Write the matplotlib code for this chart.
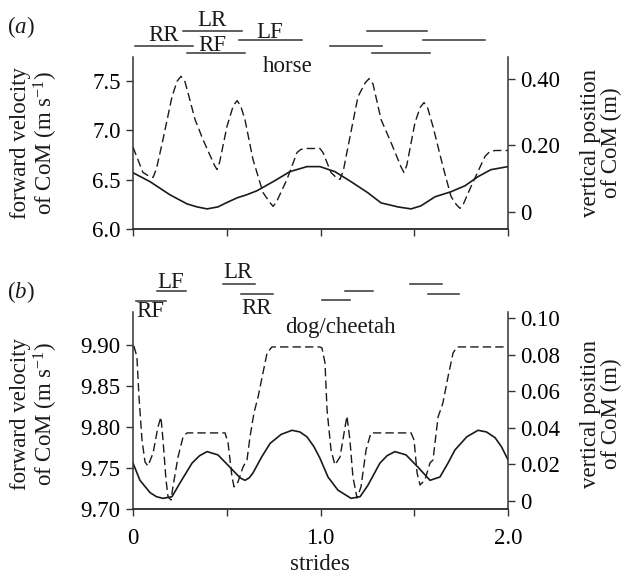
import numpy as np
import matplotlib
matplotlib.use("Agg")
import matplotlib.pyplot as plt
import matplotlib.transforms as mtransforms

plt.rcParams["font.family"] = ["Liberation Serif", "DejaVu Serif"]
plt.rcParams["mathtext.fontset"] = "custom"
plt.rcParams["mathtext.rm"] = "Liberation Serif"
plt.rcParams["mathtext.it"] = "Liberation Serif:italic"

FS = 16.5
INK = "#1a1a1a"
GREY = "#333333"

# (a) horse: forward velocity (solid, left axis), vertical position (dashed, right axis)
horse_vel_s = [0.0, 0.091, 0.197, 0.288, 0.340, 0.395, 0.453, 0.500, 0.555, 0.606, 0.661, 0.747,
               0.837, 0.928, 0.997, 1.077, 1.163, 1.253, 1.323, 1.413, 1.483, 1.536, 1.611, 1.696,
               1.771, 1.840, 1.909, 2.0]
horse_vel = [6.571, 6.480, 6.347, 6.255, 6.225, 6.204, 6.224, 6.268, 6.316, 6.347, 6.388, 6.480,
             6.582, 6.633, 6.633, 6.582, 6.480, 6.367, 6.265, 6.224, 6.204, 6.235, 6.327, 6.378,
             6.439, 6.531, 6.602, 6.633]

horse_pos_s = [0.0, 0.053, 0.085, 0.107, 0.125, 0.160, 0.208, 0.235, 0.256, 0.277, 0.293, 0.331,
               0.373, 0.435, 0.448, 0.462, 0.501, 0.535, 0.555, 0.575, 0.597, 0.640, 0.693, 0.728,
               0.747, 0.765, 0.821, 0.875, 0.895, 0.917, 0.997, 1.013, 1.056, 1.085, 1.104, 1.122,
               1.147, 1.200, 1.238, 1.259, 1.280, 1.323, 1.376, 1.430, 1.445, 1.460, 1.504, 1.532,
               1.552, 1.572, 1.600, 1.653, 1.696, 1.725, 1.744, 1.762, 1.803, 1.877, 1.900, 1.931,
               2.0]
horse_pos = [0.195, 0.119, 0.108, 0.104, 0.130, 0.218, 0.347, 0.393, 0.408, 0.392, 0.359, 0.278,
             0.218, 0.140, 0.128, 0.150, 0.257, 0.320, 0.335, 0.318, 0.278, 0.158, 0.059, 0.030,
             0.017, 0.030, 0.098, 0.179, 0.188, 0.191, 0.191, 0.179, 0.119, 0.103, 0.098, 0.125,
             0.197, 0.347, 0.388, 0.401, 0.385, 0.278, 0.209, 0.135, 0.119, 0.140, 0.269, 0.315,
             0.329, 0.312, 0.257, 0.137, 0.047, 0.022, 0.011, 0.024, 0.077, 0.167, 0.180, 0.185,
             0.185]

# (b) dog/cheetah
dog_vel_s = [0.0, 0.037, 0.091, 0.125, 0.160, 0.208, 0.251, 0.315, 0.355, 0.395, 0.453, 0.517,
             0.571, 0.597, 0.620, 0.640, 0.685, 0.731, 0.790, 0.848, 0.890, 0.928, 0.965, 0.997,
             1.040, 1.093, 1.163, 1.211, 1.253, 1.317, 1.355, 1.397, 1.456, 1.520, 1.584, 1.637,
             1.680, 1.717, 1.780, 1.840, 1.885, 1.931, 1.965, 2.0]
dog_vel = [9.756, 9.735, 9.720, 9.715, 9.713, 9.715, 9.732, 9.756, 9.765, 9.770, 9.766, 9.751,
           9.738, 9.735, 9.738, 9.744, 9.763, 9.780, 9.791, 9.796, 9.794, 9.788, 9.776, 9.762,
           9.739, 9.723, 9.713, 9.715, 9.729, 9.756, 9.765, 9.770, 9.766, 9.751, 9.735, 9.739,
           9.756, 9.772, 9.788, 9.796, 9.794, 9.787, 9.776, 9.760]

dog_pos_s = [0.005, 0.021, 0.032, 0.048, 0.064, 0.080, 0.107, 0.133, 0.149, 0.160, 0.176, 0.187,
             0.203, 0.213, 0.240, 0.267, 0.288, 0.491, 0.507, 0.528, 0.539, 0.560, 0.587, 0.608,
             0.624, 0.645, 0.667, 0.693, 0.715, 0.741, 0.997, 1.008, 1.024, 1.035, 1.056, 1.077,
             1.104, 1.131, 1.141, 1.157, 1.173, 1.195, 1.216, 1.243, 1.269, 1.483, 1.499, 1.515,
             1.531, 1.557, 1.584, 1.600, 1.627, 1.653, 1.680, 1.707, 1.728, 2.0]
dog_pos = [0.0847, 0.0787, 0.0568, 0.0333, 0.0213, 0.0191, 0.0262, 0.0404, 0.0459, 0.0333, 0.0115,
           0.0022, 0.0005, 0.0077, 0.0240, 0.0350, 0.0372, 0.0372, 0.0317, 0.0131, 0.0077, 0.0104,
           0.0186, 0.0224, 0.0350, 0.0481, 0.0568, 0.0699, 0.0809, 0.0842, 0.0842, 0.0836, 0.0754,
           0.0497, 0.0279, 0.0197, 0.0240, 0.0404, 0.0464, 0.0333, 0.0131, 0.0016, 0.0077, 0.0279,
           0.0372, 0.0372, 0.0333, 0.0153, 0.0087, 0.0115, 0.0208, 0.0224, 0.0459, 0.0536, 0.0678,
           0.0809, 0.0842, 0.0842]

# footfall bars: (start stride, end stride, height in axes fraction)
horse_bars = [(0.011, 0.320, 1.064), (0.267, 0.581, 1.151), (0.288, 0.597, 1.023), (0.565, 0.901, 1.099),
              (1.248, 1.568, 1.151), (1.051, 1.328, 1.064), (1.275, 1.584, 1.023), (1.547, 1.877, 1.099)]
horse_feet = [("RR", 0.165, 1.125), ("LR", 0.421, 1.212), ("RF", 0.421, 1.065), ("LF", 0.731, 1.142)]

dog_bars = [(0.016, 0.176, 1.056), (0.128, 0.283, 1.107), (0.480, 0.651, 1.142), (0.576, 0.747, 1.091),
            (1.008, 1.157, 1.061), (1.131, 1.280, 1.107), (1.477, 1.648, 1.142), (1.573, 1.739, 1.091)]
dog_feet = [("RF", 0.091, 1.0), ("LF", 0.203, 1.150), ("LR", 0.560, 1.200), ("RR", 0.661, 1.017)]

stride_ticks = [0, 0.5, 1.0, 1.5, 2.0]
stride_labels = ["0", "", "1.0", "", "2.0"]


def style(ax, side):
    ax.spines["top"].set_visible(False)
    for k in ("left", "right", "bottom"):
        ax.spines[k].set_linewidth(1.1)
        ax.spines[k].set_color(GREY)
    ax.spines["left" if side == "right" else "right"].set_visible(False)
    ax.tick_params(direction="out", length=5, width=1.0, color=GREY, labelsize=FS, pad=4)


def panel(rect, vel_s, vel, pos_s, pos, vlim, vticks, vlabels, plim, pticks, plabels,
          bars, feet, name, name_x, name_y, show_x):
    ax = fig.add_axes(rect)
    ax2 = ax.twinx()
    style(ax, "left")
    style(ax2, "right")
    ax.plot(vel_s, vel, color=INK, lw=1.2)
    ax2.plot(pos_s, pos, color=INK, lw=1.0, dashes=(6, 3))
    ax.set_xlim(0, 2)
    ax.set_ylim(*vlim)
    ax2.set_ylim(*plim)
    ax.set_yticks(vticks, vlabels)
    ax2.set_yticks(pticks, plabels)
    ax.set_xticks(stride_ticks, stride_labels if show_x else [""] * 5)
    ax.tick_params(axis="x", pad=9)
    tr = mtransforms.blended_transform_factory(ax.transData, ax.transAxes)
    for x0, x1, yy in bars:
        ax.plot([x0, x1], [yy, yy], transform=tr, color=GREY, lw=1.1, clip_on=False)
    for lab, xx, yy in feet:
        ax.text(xx, yy, lab, transform=tr, ha="center", va="center", fontsize=FS, color=INK)
    ax.text(name_x, name_y, name, transform=tr, ha="center", va="center", fontsize=FS, color=INK)
    return ax


fig = plt.figure(figsize=(6.24, 5.78), dpi=100)

panel([133 / 624, 1 - 229 / 578, 375 / 624, 172 / 578],
      horse_vel_s, horse_vel, horse_pos_s, horse_pos,
      (6.0, 7.745), [6.0, 6.5, 7.0, 7.5], ["6.0", "6.5", "7.0", "7.5"],
      (-0.051, 0.466), [0, 0.2, 0.4], ["0", "0.20", "0.40"],
      horse_bars, horse_feet, "horse", 0.824, 0.945, False)

panel([133 / 624, 1 - 509 / 578, 375 / 624, 197 / 578],
      dog_vel_s, dog_vel, dog_pos_s, dog_pos,
      (9.70, 9.9403), [9.70, 9.75, 9.80, 9.85, 9.90], ["9.70", "9.75", "9.80", "9.85", "9.90"],
      (-0.0044, 0.1033), [0, 0.02, 0.04, 0.06, 0.08, 0.10], ["0", "0.02", "0.04", "0.06", "0.08", "0.10"],
      dog_bars, dog_feet, "dog/cheetah", 1.104, 0.919, True)

ylab_l = "forward velocity\nof CoM (m s$^{-1}$)"
ylab_r = "vertical position\nof CoM (m)"
fig.text(35 / 624, 1 - 143 / 578, ylab_l, rotation=90, ha="center", va="center",
         fontsize=FS, color=INK, linespacing=1.0)
fig.text(35 / 624, 1 - 414 / 578, ylab_l, rotation=90, ha="center", va="center",
         fontsize=FS, color=INK, linespacing=1.0)
fig.text(601 / 624, 1 - 143 / 578, ylab_r, rotation=90, ha="center", va="center",
         fontsize=FS, color=INK, linespacing=1.0)
fig.text(601 / 624, 1 - 414 / 578, ylab_r, rotation=90, ha="center", va="center",
         fontsize=FS, color=INK, linespacing=1.0)

fig.text(21 / 624, 1 - 27 / 578, r"($\mathit{a}$)", ha="center", va="center", fontsize=FS, color=INK)
fig.text(21 / 624, 1 - 292 / 578, r"($\mathit{b}$)", ha="center", va="center", fontsize=FS, color=INK)
fig.text(320 / 624, 1 - 565 / 578, "strides", ha="center", va="center", fontsize=FS, color=INK)

fig.savefig("out.png", dpi=100)
